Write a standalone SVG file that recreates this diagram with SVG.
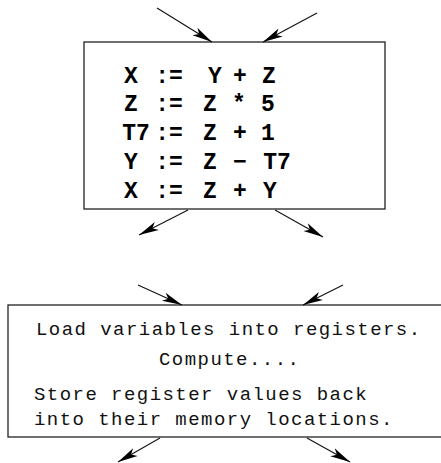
<svg xmlns="http://www.w3.org/2000/svg" width="441" height="463" viewBox="0 0 441 463">
<defs>
<marker id="ah" markerUnits="userSpaceOnUse" markerWidth="24" markerHeight="12" refX="20" refY="5" orient="auto">
<path d="M0,0.5 L20,5 L0,9.5 L5,5 Z" fill="#000"/>
</marker>
<style>
.box{fill:#fff;stroke:#222;stroke-width:1.3}
.conn line{stroke:#111;stroke-width:1.1;marker-end:url(#ah)}
.code{font-family:"Liberation Mono","DejaVu Sans Mono",monospace;font-weight:bold;font-size:23px;fill:#000;text-anchor:middle}
.txt{font-family:"Liberation Mono","DejaVu Sans Mono",monospace;font-size:19px;letter-spacing:1.45px;fill:#111}
</style>
</defs>
<rect width="441" height="463" fill="#fff"/>
<g id="block1">
<rect class="box" x="84" y="42" width="301" height="167"/>
<text class="code" y="83"><tspan x="131">X</tspan><tspan x="169">:=</tspan><tspan x="215">Y</tspan><tspan x="240">+</tspan><tspan x="269">Z</tspan></text>
<text class="code" y="111"><tspan x="131">Z</tspan><tspan x="169">:=</tspan><tspan x="210">Z</tspan><tspan x="239">*</tspan><tspan x="268">5</tspan></text>
<text class="code" y="140"><tspan x="136">T7</tspan><tspan x="169">:=</tspan><tspan x="210">Z</tspan><tspan x="240">+</tspan><tspan x="268">1</tspan></text>
<text class="code" y="169"><tspan x="131">Y</tspan><tspan x="169">:=</tspan><tspan x="210">Z</tspan><tspan x="240">−</tspan><tspan x="277">T7</tspan></text>
<text class="code" y="198"><tspan x="131">X</tspan><tspan x="169">:=</tspan><tspan x="210">Z</tspan><tspan x="240">+</tspan><tspan x="270">Y</tspan></text>
</g>
<g id="block2">
<rect class="box" x="8" y="305" width="440" height="132"/>
<text class="txt" x="36" y="335">Load variables into registers.</text>
<text class="txt" x="159" y="365">Compute....</text>
<text class="txt" x="34" y="400">Store register values back</text>
<text class="txt" x="34" y="425">into their memory locations.</text>
</g>
<g id="connectors" class="conn">
<line x1="157" y1="8" x2="212" y2="42"/>
<line x1="317" y1="13" x2="263" y2="42"/>
<line x1="188" y1="210" x2="139" y2="235"/>
<line x1="275" y1="210" x2="323" y2="237"/>
<line x1="138" y1="285" x2="182" y2="305"/>
<line x1="343" y1="285" x2="303" y2="305"/>
<line x1="160" y1="438" x2="118" y2="462"/>
<line x1="307" y1="438" x2="350" y2="462"/>
</g>
</svg>
